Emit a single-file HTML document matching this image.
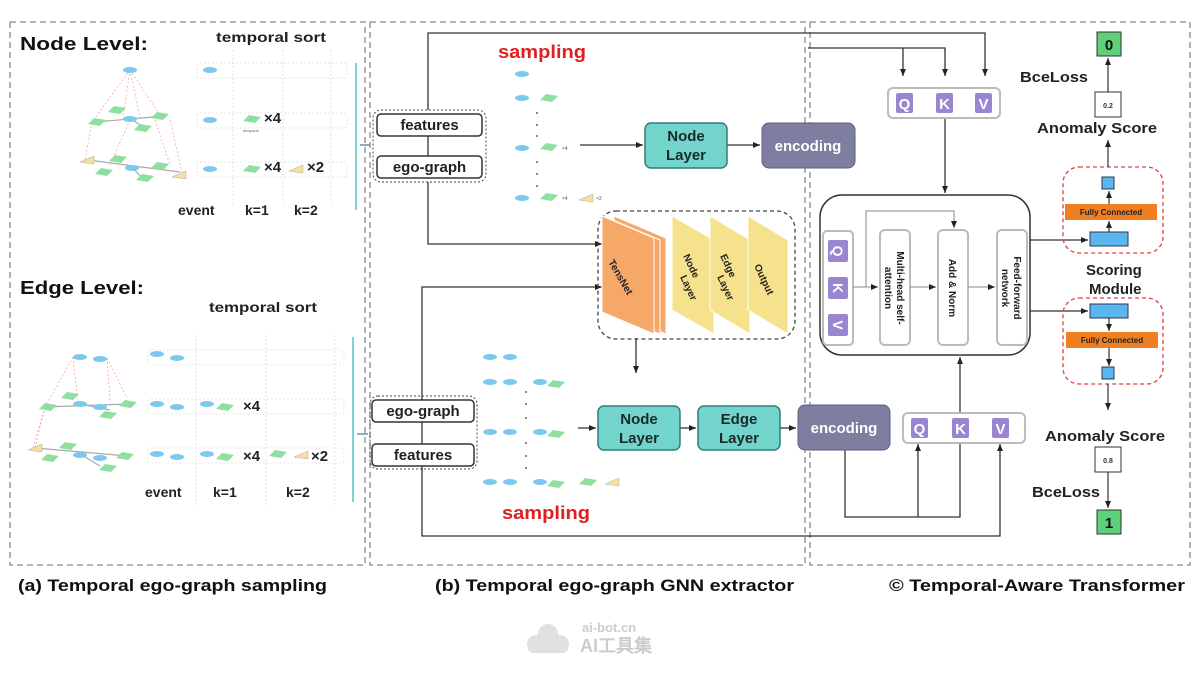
<!DOCTYPE html>
<html><head><meta charset="utf-8"><style>
html,body{margin:0;padding:0;background:#fff;}
svg{display:block;font-family:"Liberation Sans",sans-serif;}
.b{font-weight:bold;}
</style></head><body>
<svg width="1200" height="675" viewBox="0 0 1200 675" xmlns="http://www.w3.org/2000/svg">
<defs>
<marker id="a" markerWidth="8" markerHeight="8" refX="7" refY="4" orient="auto" markerUnits="userSpaceOnUse"><path d="M0,1 L7,4 L0,7 z" fill="#222"/></marker>
<g id="nd"><ellipse cx="0" cy="0" rx="7" ry="3" fill="#7cc8ef"/></g>
<g id="dm"><path d="M-9,2 L-3,-4 L9,-2 L3,4 z" fill="#8fe0a0"/></g>
<g id="tr"><path d="M-8,2 L6,-4 L6,4 z" fill="#f6e09a" stroke="#aaa" stroke-width="0.5"/></g>
</defs>

<!-- panels -->
<g fill="none" stroke="#888" stroke-width="1.3" stroke-dasharray="6,4">
<rect x="10" y="22" width="355" height="543"/>
<rect x="370" y="22" width="435" height="543"/>
<rect x="810" y="22" width="380" height="543"/>
</g>

<!-- captions -->
<g class="b" font-size="17" fill="#111">
<text x="18" y="591" textLength="309" lengthAdjust="spacingAndGlyphs">(a) Temporal ego-graph sampling</text>
<text x="435" y="591" textLength="359" lengthAdjust="spacingAndGlyphs">(b) Temporal ego-graph GNN extractor</text>
<text x="889" y="591" textLength="296" lengthAdjust="spacingAndGlyphs">© Temporal-Aware Transformer</text>
</g>
<text x="582" y="632" font-size="13" fill="#ccc" class="b">ai-bot.cn</text>
<text x="580" y="652" font-size="18" fill="#ccc" class="b">AI工具集</text>
<g fill="#e0e0e0"><circle cx="536" cy="644" r="9"/><circle cx="548" cy="634" r="10"/><circle cx="560" cy="644" r="9"/><rect x="528" y="642" width="40" height="11" rx="5"/></g>

<!-- LEFT: Node level -->
<text x="20" y="50" class="b" font-size="18" fill="#111" textLength="128" lengthAdjust="spacingAndGlyphs">Node Level:</text>
<text x="216" y="42" class="b" font-size="14" fill="#222" textLength="110" lengthAdjust="spacingAndGlyphs">temporal sort</text>
<g stroke="#f0a0a0" stroke-width="0.7" stroke-dasharray="2,2" fill="none">
<path d="M130,70 L92,122 M130,70 L123,118 M130,70 L140,118 M130,70 L162,118 M92,122 L85,160 M130,120 L110,165 M155,120 L170,165 M170,120 L182,172"/>
</g>
<g stroke="#aaa" stroke-width="1.2"><path d="M95,122 L165,116 M130,118 L143,127 M88,160 L180,172 M130,165 L142,178"/></g>
<use href="#nd" x="130" y="70"/>
<use href="#nd" x="130" y="119"/><use href="#dm" x="117" y="110"/><use href="#dm" x="97" y="122"/><use href="#dm" x="160" y="116"/><use href="#dm" x="143" y="128"/>
<use href="#nd" x="132" y="168"/><use href="#dm" x="118" y="159"/><use href="#dm" x="104" y="172"/><use href="#dm" x="160" y="166"/><use href="#dm" x="145" y="178"/>
<use href="#tr" x="88" y="160"/><use href="#tr" x="180" y="175"/>
<g fill="none" stroke="#ddd" stroke-dasharray="2,2" stroke-width="0.8">
<rect x="197" y="63" width="150" height="15" rx="3"/><rect x="197" y="113" width="150" height="15" rx="3"/><rect x="197" y="162" width="150" height="15" rx="3"/>
<path d="M233,50 V205 M283,50 V205 M331,50 V205"/>
</g>
<use href="#nd" x="210" y="70"/><use href="#nd" x="210" y="120"/><use href="#nd" x="210" y="169"/>
<use href="#dm" x="252" y="119"/><use href="#dm" x="252" y="169"/><use href="#tr" x="297" y="169"/>
<g class="b" font-size="15" fill="#222"><text x="264" y="123">×4</text><text x="264" y="172">×4</text><text x="307" y="172">×2</text></g>
<text x="243" y="132" font-size="4" fill="#666">temporal</text>
<g class="b" font-size="14" fill="#222"><text x="178" y="215">event</text><text x="245" y="215">k=1</text><text x="294" y="215">k=2</text></g>
<line x1="356" y1="63" x2="356" y2="210" stroke="#7fd3d3" stroke-width="2"/>
<line x1="360" y1="145" x2="370" y2="145" stroke="#6a8fb0" stroke-width="1.5"/>

<!-- LEFT: Edge level -->
<text x="20" y="294" class="b" font-size="18" fill="#111" textLength="124" lengthAdjust="spacingAndGlyphs">Edge Level:</text>
<text x="209" y="312" class="b" font-size="14" fill="#222" textLength="108" lengthAdjust="spacingAndGlyphs">temporal sort</text>
<g stroke="#f0a0a0" stroke-width="0.7" stroke-dasharray="2,2" fill="none">
<path d="M73,357 L45,407 M73,357 L78,402 M107,358 L127,398 M107,358 L110,400 M45,407 L35,448 M45,407 L33,448"/>
</g>
<g stroke="#aaa" stroke-width="1.2"><path d="M45,407 L127,404 M80,404 L110,410 M35,448 L128,456 M80,454 L100,466"/></g>
<use href="#nd" x="80" y="357"/><use href="#nd" x="100" y="359"/>
<use href="#dm" x="70" y="396"/><use href="#dm" x="48" y="407"/><use href="#nd" x="80" y="404"/><use href="#nd" x="100" y="407"/><use href="#dm" x="128" y="404"/><use href="#dm" x="108" y="415"/>
<use href="#dm" x="68" y="446"/><use href="#dm" x="50" y="458"/><use href="#nd" x="80" y="455"/><use href="#nd" x="100" y="458"/><use href="#dm" x="125" y="456"/><use href="#dm" x="108" y="468"/><use href="#tr" x="36" y="448"/>
<g fill="none" stroke="#ddd" stroke-dasharray="2,2" stroke-width="0.8">
<rect x="148" y="350" width="196" height="15" rx="3"/><rect x="148" y="399" width="196" height="15" rx="3"/><rect x="148" y="448" width="196" height="15" rx="3"/>
<path d="M196,335 V505 M266,335 V505 M335,335 V505"/>
</g>
<use href="#nd" x="157" y="354"/><use href="#nd" x="177" y="358"/>
<use href="#nd" x="157" y="404"/><use href="#nd" x="177" y="407"/><use href="#nd" x="207" y="404"/><use href="#dm" x="225" y="407"/>
<use href="#nd" x="157" y="454"/><use href="#nd" x="177" y="457"/><use href="#nd" x="207" y="454"/><use href="#dm" x="225" y="457"/><use href="#dm" x="278" y="454"/><use href="#tr" x="302" y="455"/>
<g class="b" font-size="15" fill="#222"><text x="243" y="411">×4</text><text x="243" y="461">×4</text><text x="311" y="461">×2</text></g>
<g class="b" font-size="14" fill="#222"><text x="145" y="497">event</text><text x="213" y="497">k=1</text><text x="286" y="497">k=2</text></g>
<line x1="353" y1="337" x2="353" y2="502" stroke="#7fd3d3" stroke-width="2"/>
<line x1="357" y1="434" x2="368" y2="434" stroke="#6a8fb0" stroke-width="1.5"/>

<!-- MIDDLE connectors -->
<g fill="none" stroke="#333" stroke-width="1.3">
<path d="M428,110 V33 H985 V76" marker-end="url(#a)"/>
<path d="M808,48 H945 V76" marker-end="url(#a)"/>
<path d="M903,48 V76" marker-end="url(#a)"/>
<path d="M428,182 V244 H602" marker-end="url(#a)"/>
<path d="M422,400 V287 H602" marker-end="url(#a)"/>
<path d="M422,466 V536 H1000 V444" marker-end="url(#a)"/>
<path d="M636,338 V373" marker-end="url(#a)"/>
<path d="M580,145 H643" marker-end="url(#a)"/>
<path d="M727,145 H760" marker-end="url(#a)"/>
<path d="M578,428 H596" marker-end="url(#a)"/>
<path d="M680,428 H696" marker-end="url(#a)"/>
<path d="M780,428 H796" marker-end="url(#a)"/>
<path d="M845,450 V517 H960 V357" marker-end="url(#a)"/>
<path d="M918,517 V444" marker-end="url(#a)"/>
<path d="M945,118 V193" marker-end="url(#a)"/>
</g>

<!-- feature/ego boxes -->
<rect x="373" y="110" width="113" height="72" rx="8" fill="none" stroke="#444" stroke-dasharray="2,2"/>
<rect x="377" y="114" width="105" height="22" rx="4" fill="#fff" stroke="#333" stroke-width="1.5"/>
<rect x="377" y="156" width="105" height="22" rx="4" fill="#fff" stroke="#333" stroke-width="1.5"/>
<line x1="428" y1="136" x2="428" y2="156" stroke="#333" stroke-width="1.3"/>
<text x="429.5" y="130" text-anchor="middle" class="b" font-size="15" fill="#222">features</text>
<text x="429.5" y="172" text-anchor="middle" class="b" font-size="15" fill="#222">ego-graph</text>
<rect x="370" y="396" width="107" height="73" rx="8" fill="none" stroke="#444" stroke-dasharray="2,2"/>
<rect x="372" y="400" width="102" height="22" rx="4" fill="#fff" stroke="#333" stroke-width="1.5"/>
<rect x="372" y="444" width="102" height="22" rx="4" fill="#fff" stroke="#333" stroke-width="1.5"/>
<line x1="422" y1="422" x2="422" y2="444" stroke="#333" stroke-width="1.3"/>
<text x="423" y="416" text-anchor="middle" class="b" font-size="15" fill="#222">ego-graph</text>
<text x="423" y="460" text-anchor="middle" class="b" font-size="15" fill="#222">features</text>

<!-- sampling top -->
<text x="498" y="58" class="b" font-size="18" fill="#e02020" textLength="88" lengthAdjust="spacingAndGlyphs">sampling</text>
<use href="#nd" x="522" y="74"/>
<use href="#nd" x="522" y="98"/><use href="#dm" x="549" y="98"/>
<use href="#nd" x="522" y="148"/><use href="#dm" x="549" y="147"/><text x="562" y="150" font-size="5" fill="#555">×4</text>
<use href="#nd" x="522" y="198"/><use href="#dm" x="549" y="197"/><text x="562" y="200" font-size="5" fill="#555">×4</text><use href="#tr" x="587" y="198"/><text x="596" y="200" font-size="5" fill="#555">×2</text>
<g fill="#333"><circle cx="537" cy="113" r="0.9"/><circle cx="537" cy="125" r="0.9"/><circle cx="537" cy="136" r="0.9"/><circle cx="537" cy="162" r="0.9"/><circle cx="537" cy="174" r="0.9"/><circle cx="537" cy="186" r="0.9"/></g>

<!-- sampling bottom -->
<text x="502" y="519" class="b" font-size="18" fill="#e02020" textLength="88" lengthAdjust="spacingAndGlyphs">sampling</text>
<use href="#nd" x="490" y="357"/><use href="#nd" x="510" y="357"/>
<use href="#nd" x="490" y="382"/><use href="#nd" x="510" y="382"/><use href="#nd" x="540" y="382"/><use href="#dm" x="556" y="384"/>
<use href="#nd" x="490" y="432"/><use href="#nd" x="510" y="432"/><use href="#nd" x="540" y="432"/><use href="#dm" x="556" y="434"/>
<use href="#nd" x="490" y="482"/><use href="#nd" x="510" y="482"/><use href="#nd" x="540" y="482"/><use href="#dm" x="556" y="484"/><use href="#dm" x="588" y="482"/><use href="#tr" x="613" y="482"/>
<g fill="#333"><circle cx="526" cy="392" r="0.9"/><circle cx="526" cy="404" r="0.9"/><circle cx="526" cy="418" r="0.9"/><circle cx="526" cy="443" r="0.9"/><circle cx="526" cy="456" r="0.9"/><circle cx="526" cy="468" r="0.9"/></g>

<!-- TensNet block -->
<rect x="598" y="211" width="197" height="128" rx="18" fill="none" stroke="#444" stroke-width="1.3" stroke-dasharray="4,3"/>
<g stroke="#fff" stroke-width="1">
<path d="M614,216 L666,238 V334 L614,312 z" fill="#f5a868"/>
<path d="M608,218 L660,240 V334 L608,314 z" fill="#f5a868"/>
<path d="M602,216 L654,238 V334 L602,312 z" fill="#f5a868"/>
<path d="M672,216 L714,240 V334 L672,310 z" fill="#f6e28c"/>
<path d="M710,216 L750,240 V334 L710,310 z" fill="#f6e28c"/>
<path d="M748,216 L788,240 V334 L748,310 z" fill="#f6e28c"/>
</g>
<g class="b" font-size="10" fill="#222">
<text transform="translate(608,262) rotate(60)">TensNet</text>
<text transform="translate(683,256) rotate(65)">Node</text>
<text transform="translate(680,277) rotate(65)">Layer</text>
<text transform="translate(720,256) rotate(65)">Edge</text>
<text transform="translate(717,277) rotate(65)">Layer</text>
<text transform="translate(754,266) rotate(65)">Output</text>
</g>

<!-- teal/purple boxes -->
<g stroke="#2f7d7a" stroke-width="1.5" fill="#72d4cb">
<rect x="645" y="123" width="82" height="45" rx="6"/>
<rect x="598" y="406" width="82" height="44" rx="6"/>
<rect x="698" y="406" width="82" height="44" rx="6"/>
</g>
<g class="b" font-size="15" fill="#1a2a2a" text-anchor="middle">
<text x="686" y="141">Node</text><text x="686" y="160">Layer</text>
<text x="639" y="424">Node</text><text x="639" y="443">Layer</text>
<text x="739" y="424">Edge</text><text x="739" y="443">Layer</text>
</g>
<rect x="762" y="123" width="93" height="45" rx="7" fill="#7e7fa0" stroke="#5e5f7e"/>
<rect x="798" y="405" width="92" height="45" rx="7" fill="#7e7fa0" stroke="#5e5f7e"/>
<text x="808" y="151" text-anchor="middle" class="b" font-size="15" fill="#fff">encoding</text>
<text x="844" y="433" text-anchor="middle" class="b" font-size="15" fill="#fff">encoding</text>

<!-- QKV boxes -->
<rect x="888" y="88" width="112" height="30" rx="5" fill="#fff" stroke="#bbb" stroke-width="2"/>
<rect x="903" y="413" width="122" height="30" rx="5" fill="#fff" stroke="#bbb" stroke-width="2"/>
<g fill="#9a85d0">
<rect x="896" y="93" width="17" height="20" rx="2"/><rect x="936" y="93" width="17" height="20" rx="2"/><rect x="975" y="93" width="17" height="20" rx="2"/>
<rect x="911" y="418" width="17" height="20" rx="2"/><rect x="952" y="418" width="17" height="20" rx="2"/><rect x="992" y="418" width="17" height="20" rx="2"/>
</g>
<g class="b" font-size="15" fill="#fff" text-anchor="middle">
<text x="904.5" y="109">Q</text><text x="944.5" y="109">K</text><text x="983.5" y="109">V</text>
<text x="919.5" y="434">Q</text><text x="960.5" y="434">K</text><text x="1000.5" y="434">V</text>
</g>

<!-- transformer -->
<rect x="820" y="195" width="210" height="160" rx="22" fill="#fff" stroke="#333" stroke-width="1.5"/>
<g fill="#fff" stroke="#bbb" stroke-width="2">
<rect x="823" y="231" width="30" height="114" rx="4"/>
<rect x="880" y="230" width="30" height="115" rx="5"/>
<rect x="938" y="230" width="30" height="115" rx="5"/>
<rect x="997" y="230" width="30" height="115" rx="5"/>
</g>
<g fill="#9a85d0"><rect x="828" y="240" width="20" height="22" rx="2"/><rect x="828" y="277" width="20" height="22" rx="2"/><rect x="828" y="314" width="20" height="22" rx="2"/></g>
<g class="b" font-size="14" fill="#fff" text-anchor="middle"><text transform="translate(838,251) rotate(90)" y="5">Q</text><text transform="translate(838,288) rotate(90)" y="5">K</text><text transform="translate(838,325) rotate(90)" y="5">V</text></g>
<g fill="none" stroke="#888" stroke-width="1">
<path d="M853,287 H878" marker-end="url(#a)"/><path d="M866,287 V211 H954 V228" marker-end="url(#a)"/>
<path d="M910,287 H936" marker-end="url(#a)"/><path d="M968,287 H995" marker-end="url(#a)"/>
</g>
<g class="b" font-size="10" fill="#222" text-anchor="middle">
<text transform="translate(895,288) rotate(90)"><tspan x="0" y="-2">Multi-head self-</tspan><tspan x="0" y="10">attention</tspan></text>
<text transform="translate(953,288) rotate(90)" y="4">Add &amp; Norm</text>
<text transform="translate(1012,288) rotate(90)"><tspan x="0" y="-2">Feed-forward</tspan><tspan x="0" y="10">network</tspan></text>
</g>
<g fill="none" stroke="#333" stroke-width="1.3">
<path d="M1030,240 H1088" marker-end="url(#a)"/><path d="M1030,311 H1088" marker-end="url(#a)"/>
</g>

<!-- scoring -->
<g fill="none" stroke="#e04040" stroke-width="1.3" stroke-dasharray="4,3">
<rect x="1063" y="167" width="100" height="86" rx="16"/>
<rect x="1063" y="298" width="100" height="86" rx="16"/>
</g>
<g fill="#5ab6ee" stroke="#335"><rect x="1102" y="177" width="12" height="12"/><rect x="1090" y="232" width="38" height="14"/><rect x="1090" y="304" width="38" height="14"/><rect x="1102" y="367" width="12" height="12"/></g>
<rect x="1065" y="204" width="92" height="16" fill="#ef7f22"/>
<rect x="1066" y="332" width="92" height="16" fill="#ef7f22"/>
<g class="b" font-size="8" fill="#222" text-anchor="middle"><text x="1111" y="215">Fully Connected</text><text x="1112" y="343">Fully Connected</text></g>
<g fill="none" stroke="#333" stroke-width="1.2">
<path d="M1109,232 V221" marker-end="url(#a)"/><path d="M1109,204 V191" marker-end="url(#a)"/>
<path d="M1109,318 V331" marker-end="url(#a)"/><path d="M1109,348 V366" marker-end="url(#a)"/>
<path d="M1108,167 V140" marker-end="url(#a)"/><path d="M1108,92 V58" marker-end="url(#a)"/>
<path d="M1108,384 V410" marker-end="url(#a)"/><path d="M1108,472 V508" marker-end="url(#a)"/>
</g>
<g class="b" font-size="15" fill="#222">
<text x="1086" y="275">Scoring</text><text x="1089" y="294">Module</text>
<text x="1037" y="133" textLength="120" lengthAdjust="spacingAndGlyphs">Anomaly Score</text>
<text x="1045" y="441" textLength="120" lengthAdjust="spacingAndGlyphs">Anomaly Score</text>
<text x="1020" y="82" textLength="68" lengthAdjust="spacingAndGlyphs">BceLoss</text>
<text x="1032" y="497" textLength="68" lengthAdjust="spacingAndGlyphs">BceLoss</text>
</g>
<rect x="1095" y="92" width="26" height="25" fill="#fff" stroke="#333"/>
<rect x="1095" y="447" width="26" height="25" fill="#fff" stroke="#333"/>
<text x="1108" y="108" text-anchor="middle" font-size="7" class="b" fill="#333">0.2</text>
<text x="1108" y="463" text-anchor="middle" font-size="7" class="b" fill="#333">0.8</text>
<rect x="1097" y="32" width="24" height="24" fill="#5ed07a" stroke="#333"/>
<rect x="1097" y="510" width="24" height="24" fill="#5ed07a" stroke="#333"/>
<text x="1109" y="50" text-anchor="middle" class="b" font-size="15" fill="#111">0</text>
<text x="1109" y="528" text-anchor="middle" class="b" font-size="15" fill="#111">1</text>
</svg>
</body></html>
